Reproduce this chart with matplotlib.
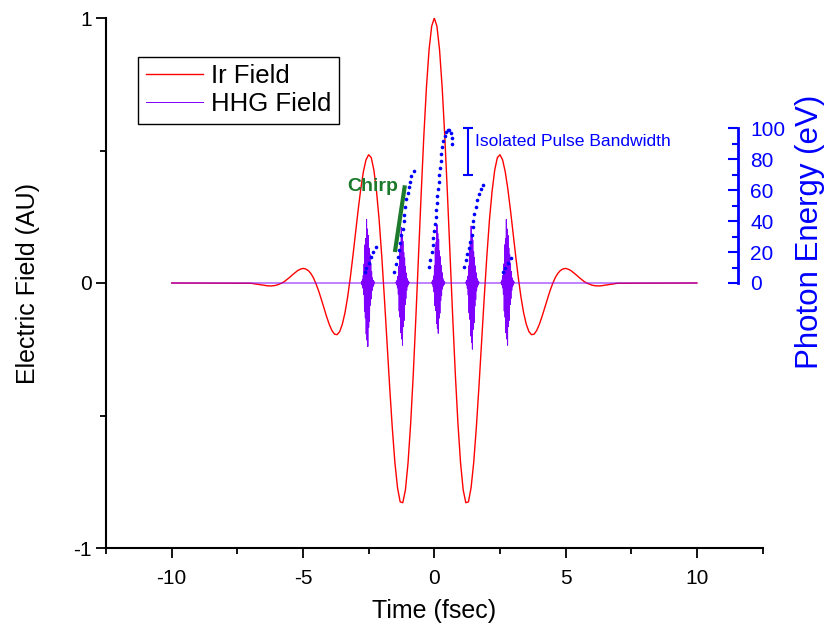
import numpy as np
import matplotlib.pyplot as plt
from matplotlib.ticker import MultipleLocator, FixedLocator

plt.rcParams['font.family'] = ['Liberation Sans', 'DejaVu Sans']
plt.rcParams['axes.unicode_minus'] = False

# IR field read every 0.1 fs for t >= 0 (the pulse is symmetric about t = 0)
ir_step = 0.1
ir_half = [1.000, 0.969, 0.880, 0.737, 0.552, 0.336, 0.105, -0.126, -0.343, -0.530,
           -0.679, -0.781, -0.829, -0.826, -0.773, -0.678, -0.546, -0.391, -0.224, -0.057,
           0.100, 0.238, 0.346, 0.426, 0.473, 0.484, 0.465, 0.420, 0.355, 0.275,
           0.188, 0.101, 0.019, -0.053, -0.112, -0.155, -0.183, -0.195, -0.193, -0.179,
           -0.156, -0.127, -0.095, -0.062, -0.031, -0.004, 0.019, 0.036, 0.047, 0.053,
           0.055, 0.052, 0.047, 0.039, 0.031, 0.022, 0.014, 0.006, 0.000, -0.004,
           -0.008, -0.010, -0.011, -0.011, -0.010, -0.008, -0.007, -0.005, -0.004, -0.002,
           -0.001]

# HHG bursts: centre (fs), positive and negative excursion
burst_t = [-2.53, -1.21, 0.15, 1.45, 2.79]
burst_up = [0.24, 0.21, 0.22, 0.215, 0.24]
burst_down = [0.24, 0.235, 0.19, 0.25, 0.235]
burst_step = 0.016
burst_shape = [0.02, -0.03, 0.05, -0.08, 0.12, -0.18, 0.3, -0.45, 0.6, -0.55, 0.7,
               -0.8, 1.0, -0.9, 0.85, -1.0, 0.75, -0.7, 0.55, -0.6, 0.45, -0.35, 0.3,
               -0.25, 0.18, -0.12, 0.08, -0.06, 0.04, -0.03, 0.02]

# photon energy of the emitted harmonics (fs, eV)
t1 = [-2.65, -2.59, -2.50, -2.42, -2.34, -2.23]
e1 = [7, 10, 13, 17, 20, 23]
t2 = [-1.53, -1.44, -1.38, -1.34, -1.29, -1.25, -1.21, -1.17, -1.14, -1.10, -1.06,
      -1.02, -0.98, -0.93, -0.87, -0.78]
e2 = [7, 12, 17, 21, 26, 31, 35, 40, 44, 49, 54, 58, 62, 65, 69, 72]
t3 = [-0.20, -0.15, -0.10, -0.06, -0.04, -0.01, 0.02, 0.05, 0.07, 0.10, 0.12, 0.14,
      0.16, 0.19, 0.21, 0.24, 0.27, 0.30, 0.35, 0.40, 0.46, 0.51, 0.57, 0.62, 0.66, 0.69]
e3 = [10.5, 15, 20, 24.5, 29, 33.5, 38, 42.5, 47, 51.5, 56, 60.5, 65, 69.5, 74, 78.5,
      83, 87.5, 91.5, 95, 97.5, 98.5, 98.5, 96.5, 93.5, 89.5]
t4 = [1.14, 1.20, 1.26, 1.33, 1.35, 1.42, 1.46, 1.48, 1.52, 1.58, 1.63, 1.71, 1.77, 1.86]
e4 = [10.5, 15, 19, 22.5, 26.5, 31, 36, 40, 44.5, 49, 53.5, 57.5, 60.5, 63]
t5 = [2.61, 2.70, 2.80, 2.93]
e5 = [7, 10, 13, 16]

chirp_t = [-1.50, -1.12]
chirp_e = [20, 63]
band_t = 1.29
band_lo, band_hi = 70, 100

blue = '#0000ff'
green = '#1b7a2b'

# build the curves
half = np.array(ir_half)
half_t = np.arange(len(half)) * ir_step
ir_t = np.concatenate([[-10], -half_t[:0:-1], half_t, [10]])
ir_e = np.concatenate([[0], half[:0:-1], half, [0]])

hhg_t, hhg_e = [-10.0], [0.0]
n = len(burst_shape)
offs = (np.arange(n) - (n - 1) / 2) * burst_step
for c, up, dn in zip(burst_t, burst_up, burst_down):
    vals = [s * up if s > 0 else s * dn for s in burst_shape]
    hhg_t += [c + offs[0] - 0.02] + list(c + offs) + [c + offs[-1] + 0.02]
    hhg_e += [0.0] + vals + [0.0]
hhg_t.append(10.0)
hhg_e.append(0.0)

fig = plt.figure(figsize=(8.31, 6.30), dpi=100)
ax = fig.add_axes([106 / 831, 1 - 548 / 630, 656.6 / 831, 530 / 630])

ax.plot(ir_t, ir_e, color='#ff0000', lw=1, label='Ir Field')
ax.plot(hhg_t, hhg_e, color='#8000ff', lw=0.7, label='HHG Field')

ax.set_xlim(-12.5, 12.5)
ax.set_ylim(-1, 1)
ax.spines['top'].set_visible(False)
ax.spines['right'].set_visible(False)
for s in ['left', 'bottom']:
    ax.spines[s].set_linewidth(1.5)
ax.xaxis.set_major_locator(MultipleLocator(5))
ax.xaxis.set_minor_locator(MultipleLocator(2.5))
ax.set_yticks([-1, 0, 1])
ax.yaxis.set_minor_locator(MultipleLocator(0.5))
ax.tick_params(which='major', length=7, width=1.3, labelsize=15)
ax.tick_params(which='minor', length=4.5, width=1.3)
ax.tick_params(axis='x', pad=8)
ax.tick_params(axis='y', pad=3)

ax.set_xlabel('Time (fsec)', fontsize=18, labelpad=8)
ax.set_ylabel('Electric Field (AU)', fontsize=18, labelpad=24)

leg = ax.legend(loc='upper left', bbox_to_anchor=(0.0487, 0.927), borderaxespad=0,
                fancybox=False, edgecolor='black', framealpha=1, fontsize=18.5,
                handlelength=2.25, handletextpad=0.3, labelspacing=0.15, borderpad=0.3)
leg.get_frame().set_linewidth(1)

# photon energy axis
ax2 = ax.twinx()
ax2.set_ylim(-170.97, 170.97)
for s in ['top', 'bottom', 'left']:
    ax2.spines[s].set_visible(False)
ax2.spines['right'].set_position(('data', 11.55))
ax2.spines['right'].set_bounds(0, 100)
ax2.spines['right'].set_color(blue)
ax2.spines['right'].set_linewidth(2)
ax2.set_yticks([0, 20, 40, 60, 80, 100])
ax2.yaxis.set_minor_locator(FixedLocator([10, 30, 50, 70, 90]))
ax2.tick_params(axis='y', which='both', direction='in', colors=blue, width=1.5)
ax2.tick_params(axis='y', which='major', length=7, labelsize=15, pad=9)
ax2.tick_params(axis='y', which='minor', length=4.5)

for tt, ee in [(t1, e1), (t2, e2), (t3, e3), (t4, e4), (t5, e5)]:
    ax2.plot(tt, ee, 'o', color=blue, markersize=2.6, markeredgewidth=0)

ax2.plot(chirp_t, chirp_e, color=green, lw=3, solid_capstyle='butt')
ax2.text(-1.38, 62, 'Chirp', ha='right', va='center', fontsize=14,
         fontweight='bold', color=green)

ax2.errorbar([band_t], [(band_lo + band_hi) / 2], yerr=[(band_hi - band_lo) / 2],
             fmt='none', ecolor=blue, elinewidth=1.5, capsize=3.5, capthick=1.5)
ax2.text(1.56, 91, 'Isolated Pulse Bandwidth', fontsize=12.6, color=blue, va='center')

fig.text(810 / 831, 1 - 232 / 630, 'Photon Energy (eV)', rotation=90,
         ha='center', va='center', fontsize=22.5, color=blue)

fig.savefig('out.png', dpi=100)
